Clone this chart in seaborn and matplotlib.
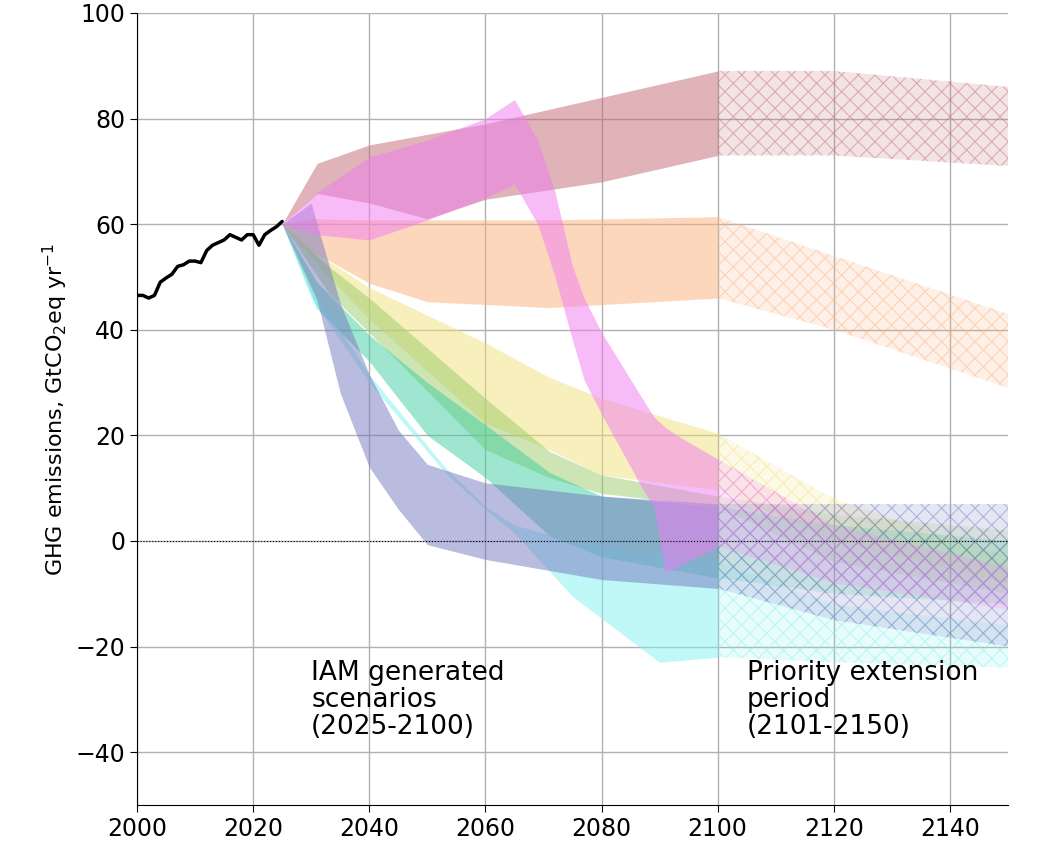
import matplotlib
matplotlib.use("Agg")
import matplotlib.pyplot as plt
import seaborn as sns
import numpy as np
from matplotlib.colors import to_rgb

sns.set_style("white")
plt.rcParams['font.family'] = ['DejaVu Sans']
plt.rcParams['hatch.linewidth'] = 0.8

hist_years = [2000, 2001, 2002, 2003, 2004, 2005, 2006, 2007, 2008, 2009, 2010, 2011, 2012, 2013, 2014, 2015, 2016, 2017, 2018, 2019, 2020, 2021, 2022, 2023, 2024, 2025]
hist_vals = [46.5, 46.5, 46, 46.5, 49, 49.8, 50.5, 52, 52.3, 53, 53, 52.7, 55, 56, 56.5, 57, 58, 57.5, 57, 58, 58, 56, 58, 58.8, 59.5, 60.5]

# IAM bands: (years, upper, lower)
bands = {
    "red":    ([2025, 2031, 2040, 2050, 2060, 2080, 2100], [60, 71.5, 75, 77, 79, 84, 89], [60, 65.8, 64, 61, 64.7, 68, 73]),
    "orange": ([2025, 2030, 2040, 2050, 2071, 2100], [60, 61, 60.8, 60.8, 60.8, 61.4], [60, 55, 48.8, 45.3, 44.2, 46]),
    "yellow": ([2025, 2033, 2040, 2060, 2071, 2080, 2100], [60, 53, 48, 37.5, 31, 27, 20.4], [60, 50, 42, 22.3, 17.3, 12.5, 9.7]),
    "green":  ([2025, 2033, 2040, 2060, 2071, 2080, 2100], [60, 52, 46, 27, 17, 12.5, 8.5], [60, 47, 39.4, 17.3, 12, 9, 6.5]),
    "teal":   ([2025, 2031, 2040, 2050, 2060, 2071, 2080, 2100], [60, 49, 39, 30, 22, 13, 8.5, 6.5], [60, 44, 34, 20, 12, 1, -3, -7]),
    "cyan":   ([2025, 2030, 2040, 2053, 2060, 2065, 2075, 2090, 2100], [60, 48, 31.5, 14, 6.5, 3, 0, -2, -4], [60, 46, 30, 13, 6, 1.5, -10.5, -23, -22]),
    "purple": ([2025, 2030, 2031, 2035, 2040, 2045, 2050, 2060, 2080, 2100], [60, 64, 60, 45, 31.5, 21, 14.5, 11, 8.5, 7], [60, 48, 45.6, 28, 14, 6, -0.7, -3.5, -7.3, -9]),
    "magenta":([2025, 2031, 2040, 2050, 2060, 2065, 2069, 2072, 2075, 2077, 2080, 2087, 2089, 2091, 2093, 2100],
               [60, 66, 72.7, 75.9, 80, 83.6, 75.9, 66, 52, 46, 39.5, 27, 23.5, 21.5, 20, 15.5],
               [60, 58, 57, 60.8, 65, 67.6, 60, 50, 38, 30.5, 24, 10, 6.4, -6, -5, -1]),
}
# Extension bands (2100-2150): (years, upper, lower)
ext = {
    "red":    ([2100, 2120, 2150], [89, 89, 86], [73, 73, 71]),
    "orange": ([2100, 2120, 2150], [61.4, 54, 43], [46, 40, 29]),
    "yellow": ([2100, 2120, 2150], [20.4, 8, -3], [9.7, 0, -8]),
    "green":  ([2100, 2120, 2150], [8.5, 5, 2], [6.5, -4, -10]),
    "teal":   ([2100, 2120, 2150], [6.5, 3, 0], [-7, -10, -12]),
    "cyan":   ([2100, 2120, 2150], [-4, -12, -16], [-22, -23, -24]),
    "purple": ([2100, 2120, 2150], [7, 7, 7], [-9, -15, -20]),
    "magenta":([2100, 2120, 2150], [15.5, 3, -5], [-1, -8, -13]),
}
colors = {"red": "#c06870", "orange": "#fdb07a", "yellow": "#f0e07a", "green": "#9ccc6a",
          "teal": "#3fcfa0", "cyan": "#80f2ee", "purple": "#7478c0", "magenta": "#f07af2"}

fig = plt.figure(figsize=(10.5, 8.6), dpi=100)
ax = fig.add_axes([0.1305, 0.064, 0.8295, 0.921])

for k, (yrs, up, lo) in bands.items():
    ax.fill_between(yrs, lo, up, color=colors[k], alpha=0.5, lw=0)
for k, (yrs, up, lo) in ext.items():
    rgb = to_rgb(colors[k])
    ax.fill_between(yrs, lo, up, facecolor=(*rgb, 0.18), edgecolor=(*rgb, 0.45), hatch="xx", lw=0)

sns.lineplot(x=hist_years, y=hist_vals, color="black", lw=2.5, ax=ax)
ax.axhline(0, color="black", lw=0.8, ls=":")

ax.set_xlim(2000, 2150)
ax.set_ylim(-50, 100)
ax.set_xticks(range(2000, 2151, 20))
ax.set_yticks(range(-40, 101, 20))
ax.grid(True, color="#b0b0b0", lw=1)
ax.set_axisbelow(True)
ax.tick_params(labelsize=17, length=5, left=True, bottom=True, colors="black")
ax.set_ylabel("GHG emissions, GtCO$_2$eq yr$^{-1}$", fontsize=16, color="black")
for s in ["top", "right"]:
    ax.spines[s].set_visible(False)
for s in ["left", "bottom"]:
    ax.spines[s].set_color("black")

ax.text(2030, -22.5, "IAM generated\nscenarios\n(2025-2100)", fontsize=19, va="top", linespacing=1.05, color="black")
ax.text(2105, -22.5, "Priority extension\nperiod\n(2101-2150)", fontsize=19, va="top", linespacing=1.05, color="black")

fig.savefig("out.png", dpi=100)
